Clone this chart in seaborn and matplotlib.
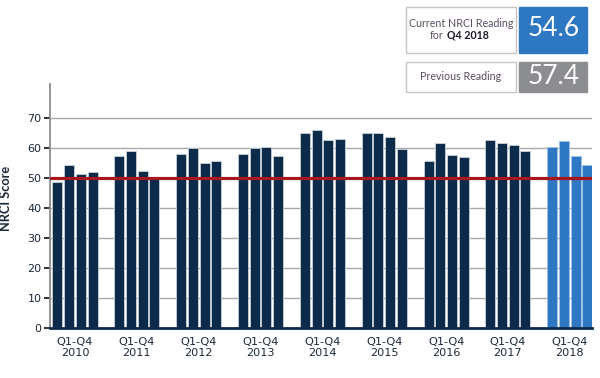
import numpy as np
import pandas as pd
import matplotlib
matplotlib.use("Agg")
import matplotlib.pyplot as plt
from matplotlib.patches import Rectangle
import seaborn as sns

# ---- data ----
years = ["2010", "2011", "2012", "2013", "2014", "2015", "2016", "2017", "2018"]
quarters = ["Q1", "Q2", "Q3", "Q4"]
scores = [
    [48.7, 54.6, 51.4, 52.3],   # 2010
    [57.5, 59.1, 52.6, 49.9],   # 2011
    [58.3, 60.0, 55.2, 55.9],   # 2012
    [58.3, 60.3, 60.5, 57.5],   # 2013
    [65.2, 66.2, 62.8, 63.0],   # 2014
    [65.0, 65.2, 63.9, 59.9],   # 2015
    [55.9, 61.7, 57.7, 57.1],   # 2016
    [62.8, 61.9, 61.1, 59.1],   # 2017
    [60.5, 62.5, 57.4, 54.6],   # 2018
]
x_labels = ["Q1-Q4\n" + y for y in years]
highlight_year = "2018"
baseline = 50
current_label = "54.6"
previous_label = "57.4"
y_ticks = [0, 10, 20, 30, 40, 50, 60, 70]

df = pd.DataFrame(
    [(y, q, v) for y, row in zip(years, scores) for q, v in zip(quarters, row)],
    columns=["year", "quarter", "score"],
)

NAVY = "#0c2a4a"
BLUE = "#2e77c2"
RED = "#a8161e"
GREY_BOX = "#8c8d90"
TXT = "#1c2838"

sns.set_theme(style="white")
plt.rcParams["font.family"] = ["Lato", "DejaVu Sans"]

fig = plt.figure(figsize=(6.0, 3.78), dpi=100)
ax = fig.add_axes([50 / 600, 1 - 328.3 / 378, 542 / 600, (328.3 - 84) / 378])

sns.barplot(
    data=df, x="year", y="score", hue="quarter", order=years, hue_order=quarters,
    palette=[NAVY] * 4, width=0.757, gap=0.145, legend=False, ax=ax,
    edgecolor="#c9d2dc", linewidth=0.6, saturation=1,
)

# recolor highlighted year
for cont in ax.containers:
    for j, bar in enumerate(cont):
        if years[j] == highlight_year:
            bar.set_facecolor(BLUE)
            bar.set_edgecolor("#9cc3ea")

ax.set_xlim(-0.405, 8.36)
ax.set_ylim(0, 81.5)
ax.set_yticks(y_ticks)
ax.set_yticklabels([str(t) for t in y_ticks], fontfamily="DejaVu Sans")
ax.yaxis.grid(True, color="#a9a9a9", linewidth=1.0)
ax.set_axisbelow(True)
ax.axhline(baseline, color=RED, linewidth=2.3, zorder=5)

for s in ["top", "right"]:
    ax.spines[s].set_visible(False)
ax.spines["left"].set_color("#8c8c8c")
ax.spines["left"].set_linewidth(1.3)
ax.spines["bottom"].set_color(NAVY)
ax.spines["bottom"].set_linewidth(2.0)
ax.spines["bottom"].set_zorder(6)

ax.set_xticks(range(len(years)))
ax.set_xticklabels(x_labels, fontfamily="DejaVu Sans")
ax.set_xticks(np.arange(0.5, len(years) - 1, 1.0), minor=True)
ax.tick_params(axis="x", which="major", length=0, pad=6, labelsize=8.1,
               labelcolor=TXT)
ax.tick_params(axis="x", which="minor", length=24.5, width=1.0, color="#9a9a9a",
               direction="out")
ax.tick_params(axis="y", which="major", left=True, length=4, width=1.3,
               color="#222222", labelsize=8.0, labelcolor=TXT, pad=2)
for lab in ax.get_xticklabels():
    lab.set_linespacing(1.2)

ax.set_xlabel("")
ax.set_ylabel("NRCI Score", fontsize=9.2, fontweight="bold", color=TXT)
ax.yaxis.set_label_coords(-0.07, 0.533)

# ---- top-right info boxes ----
def fx(px):
    return px / 600

def fy(py):
    return 1 - py / 378

def box(x0, y0, x1, y1, face, edge):
    fig.patches.append(Rectangle((fx(x0), fy(y1)), fx(x1) - fx(x0), fy(y0) - fy(y1),
                                 transform=fig.transFigure, facecolor=face,
                                 edgecolor=edge, linewidth=1.0))

box(406, 6.7, 515.7, 52.7, "white", "#c6c6c6")
box(519, 6.7, 587.3, 52.7, BLUE, BLUE)
box(406, 62, 515.7, 91.7, "white", "#c6c6c6")
box(519, 62, 587.3, 91.7, GREY_BOX, GREY_BOX)

fig.text(fx(460.9), fy(23.5), "Current NRCI Reading", ha="center", va="center",
         fontsize=7.7, color="#5a4c5e")
fig.text(fx(443.5), fy(35.2), "for", ha="right", va="center",
         fontsize=7.7, color="#5a4c5e")
fig.text(fx(446.7), fy(35.2), "Q4 2018", ha="left", va="center",
         fontsize=7.7, color="#1a1a2a", fontweight="bold")
fig.text(fx(553.2), fy(28.5), current_label, ha="center", va="center",
         fontsize=19, color="white")
fig.text(fx(460.9), fy(77), "Previous Reading", ha="center", va="center",
         fontsize=7.7, color="#5a4c5e")
fig.text(fx(553.2), fy(77), previous_label, ha="center", va="center",
         fontsize=19, color="white")

fig.savefig("out.png", dpi=100)
